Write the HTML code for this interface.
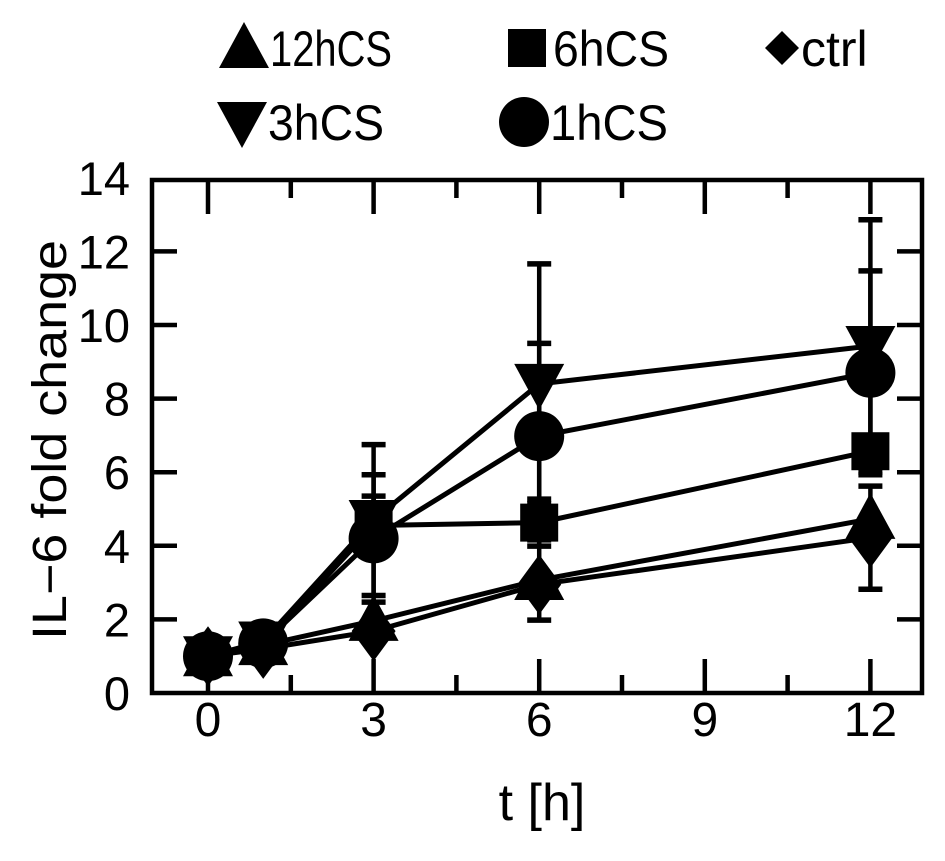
<!DOCTYPE html>
<html><head><meta charset="utf-8"><style>
html,body{margin:0;padding:0;background:#fff;}
svg text{font-family:"Liberation Sans",sans-serif;fill:#000;}
</style></head><body>
<svg id="chart" width="945" height="856" viewBox="0 0 945 856">
<g id="legend"></g>
<g id="plot"></g>
</svg>
<script>
const times = [0, 1, 3, 6, 12];
const seriesNames = ["12hCS", "6hCS", "ctrl", "3hCS", "1hCS"];
const v12h = [1.0, 1.3, 1.96, 3.07, 4.73];
const v6h = [1.0, 1.3, 4.55, 4.63, 6.57];
const vctrl = [1.0, 1.2, 1.68, 2.95, 4.22];
const v3h = [1.0, 1.4, 4.7, 8.4, 9.43];
const v1h = [1.0, 1.35, 4.2, 6.98, 8.7];
const e12h = [0, 0, 0, 1.09, 0];
const e6h = [0, 0, 0.8, 0.64, 0];
const ectrl = [0, 0, 0, 0, 1.4];
const e3h = [0, 0, 2.05, 3.26, 3.43];
const e1h = [0, 0, 1.73, 2.52, 2.77];
const yTicks = [0, 2, 4, 6, 8, 10, 12, 14];
const xTicks = [0, 3, 6, 9, 12];
const NS = "http://www.w3.org/2000/svg";
const X0 = 208, XS = 55.2, Y0 = 693, YS = 36.8;
function xs(t){return X0 + t*XS;}
function ys(v){return Y0 - v*YS;}
const plot = document.getElementById('plot');
const legend = document.getElementById('legend');
function mk(tag, attrs, parent){const e=document.createElementNS(NS,tag);for(const k in attrs)e.setAttribute(k,attrs[k]);parent.appendChild(e);return e;}
const fr = mk('rect',{x:152,y:180,width:770,height:513,fill:'none',stroke:'#000','stroke-width':4.5},plot);


yTicks.forEach(v=>{
  const y=ys(v);
  if(v>0&&v<14){
    const a=mk('line',{x1:152,y1:y,x2:177,y2:y,stroke:'#000','stroke-width':4.5},plot);
    
    
    const b=mk('line',{x1:897,y1:y,x2:922,y2:y,stroke:'#000','stroke-width':4.5},plot);
    
    
  }
  const t=mk('text',{x:130,y:y+17,'font-size':47,'text-anchor':'end'},plot);
  t.textContent=v;
  
  
});
for(let t=0;t<=12;t+=1.5){
  const major = Number.isInteger(t/3);
  const L = major?34:18;
  const a=mk('line',{x1:xs(t),y1:180,x2:xs(t),y2:180+L,stroke:'#000','stroke-width':4.5},plot);
  
  
  const b=mk('line',{x1:xs(t),y1:693,x2:xs(t),y2:693-L,stroke:'#000','stroke-width':4.5},plot);
  
  
}
xTicks.forEach(t=>{
  const e=mk('text',{x:xs(t),y:736,'font-size':48,'text-anchor':'middle'},plot);
  e.textContent=t;
  
  
});
const xl=mk('text',{x:542,y:820,'font-size':52,'text-anchor':'middle'},plot);
xl.textContent='t [h]';


const yl=mk('text',{x:0,y:0,'font-size':48,'text-anchor':'middle',textLength:400,lengthAdjust:'spacingAndGlyphs',transform:'translate(66,440) rotate(-90)'},plot);
yl.textContent='IL\u22126 fold change';



function marker(type,cx,cy,parent){
  let e;
  if(type==='up') e=mk('polygon',{points:`${cx-25},${cy+20} ${cx+25},${cy+20} ${cx},${cy-26}`},parent);
  else if(type==='down') e=mk('polygon',{points:`${cx-25},${cy-20} ${cx+25},${cy-20} ${cx},${cy+26}`},parent);
  else if(type==='sq') e=mk('rect',{x:cx-19,y:cy-19,width:38,height:38},parent);
  else if(type==='dia') e=mk('polygon',{points:`${cx},${cy-30} ${cx+22},${cy} ${cx},${cy+30} ${cx-22},${cy}`},parent);
  else e=mk('ellipse',{cx:cx,cy:cy,rx:25,ry:25},parent);
  e.setAttribute('fill','#000');
  return e;
}
const series = [
  {n:seriesNames[0],v:v12h,e:e12h,m:'up'},
  {n:seriesNames[2],v:vctrl,e:ectrl,m:'dia'},
  {n:seriesNames[1],v:v6h,e:e6h,m:'sq'},
  {n:seriesNames[4],v:v1h,e:e1h,m:'circ'},
  {n:seriesNames[3],v:v3h,e:e3h,m:'down'}
];
series.forEach(s=>{
  const g=mk('g',{},plot);
  
  
  s.v.forEach((v,i)=>{
    if(s.e[i]>0){
      const x=xs(times[i]);
      const l=mk('line',{x1:x,y1:ys(v-s.e[i]),x2:x,y2:ys(v+s.e[i]),stroke:'#000','stroke-width':4.5},g);
      
      
      [v-s.e[i],v+s.e[i]].forEach(c=>{
        const cp=mk('line',{x1:x-12,y1:ys(c),x2:x+12,y2:ys(c),stroke:'#000','stroke-width':5.5},g);
        
        
      });
    }
  });
  const pts=s.v.map((v,i)=>xs(times[i])+','+ys(v)).join(' ');
  const pl=mk('polyline',{points:pts,fill:'none',stroke:'#000','stroke-width':5},g);
  
  
  s.v.forEach((v,i)=>{
    const m=marker(s.m,xs(times[i]),ys(v),g);
    
    
  });
});
const leg=[
  {n:'12hCS',m:'up',x:244,y:48,w:122},
  {n:'6hCS',m:'sq',x:527,y:48,w:116},
  {n:'ctrl',m:'dia',x:782,y:48,w:0},
  {n:'3hCS',m:'down',x:242,y:122,w:116},
  {n:'1hCS',m:'circ',x:524,y:122,w:118}
];
leg.forEach(l=>{
  const g=mk('g',{},legend);
  
  
  let m;
  if(l.m==='dia'){m=mk('polygon',{points:`${l.x},${l.y-17} ${l.x+17},${l.y} ${l.x},${l.y+17} ${l.x-17},${l.y}`,fill:'#000'},g);}
  else m=marker(l.m,l.x,l.y,g);
  
  
  const attrs={x:l.x+(l.m==='dia'?19:26),y:l.y+18,'font-size':50};
  if(l.w){attrs.textLength=l.w;attrs.lengthAdjust='spacingAndGlyphs';}
  const t=mk('text',attrs,g);
  t.textContent=l.n;
  
  
});
</script>
</body></html>
